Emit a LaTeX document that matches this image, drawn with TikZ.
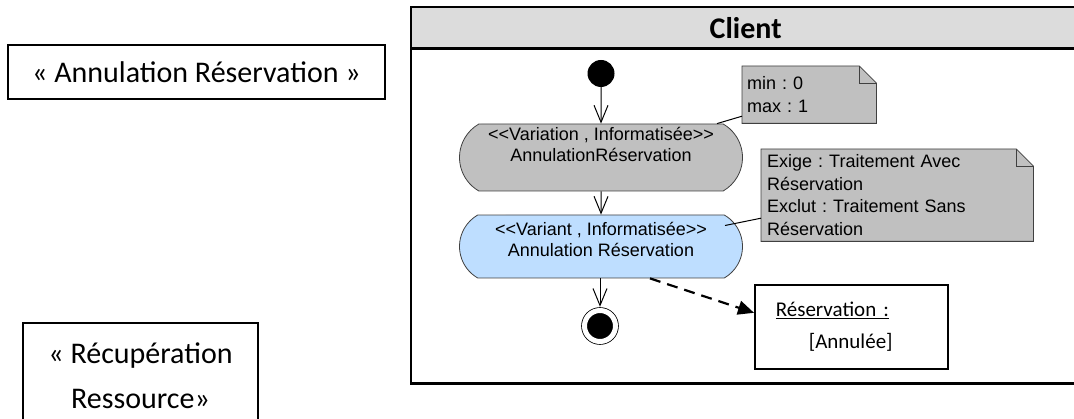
\documentclass[tikz,border=0pt]{standalone}
\usepackage{fontspec}
\setmainfont{Carlito}
\newfontfamily\arialfont{Liberation Sans}
\usepackage{xcolor}
\usepackage{tikz}
\usetikzlibrary{arrows.meta, positioning, shapes.misc, backgrounds, calc}
\frenchspacing

\definecolor{notegray}{RGB}{192,192,192}
\definecolor{variantblue}{RGB}{190,222,255}
\definecolor{headgray}{RGB}{220,220,220}

\begin{document}
\begin{tikzpicture}[
    x=1pt, y=-1pt,
    lbox/.style={draw, line width=2pt, align=center, font=\fontsize{30}{45}\selectfont},
    lane/.style={anchor=north west, minimum width=669pt, inner sep=0pt},
    frame/.style={line width=2.5pt},
    act/.style={rounded rectangle, rounded rectangle arc length=120, draw=black!75, line width=0.8pt, align=center, inner sep=0pt, minimum width=283pt, font=\arialfont\fontsize{18}{21}\selectfont},
    note/.style={anchor=north west, align=left, inner ysep=0pt, font=\arialfont\fontsize{18}{22.5}\selectfont},
    notebg/.style={draw=black!75, line width=0.8pt, fill=notegray},
    objbox/.style={draw, line width=1.6pt, anchor=north west, align=left, inner xsep=21pt, minimum width=193pt, minimum height=84pt, text width=151pt, font=\fontsize{21}{32}\selectfont},
    flow/.style={-{Straight Barb[length=17pt, width=14pt]}, line width=1pt},
    dep/.style={-{Triangle[length=16pt, width=14pt]}, line width=2.2pt, dash pattern=on 11pt off 7pt},
    link/.style={line width=1pt}
]
\useasboundingbox (0,0) rectangle (1074,419);

% left labels
\node[lbox, minimum width=377pt, minimum height=54pt] (annul) at (196.5,72) {« Annulation Réservation »};
\node[lbox, anchor=north west, minimum width=235pt, minimum height=106pt] (recup) at (22,322) {« Récupération\\Ressource»};

% swimlane (open on the right)
\node[lane, minimum height=41pt, fill=headgray, font=\bfseries\fontsize{30}{32}\selectfont] (client) at (411,7) {Client};
\node[lane, minimum height=335pt] (lane) at (411,48) {};
\draw[frame] ([xshift=20pt]client.north east) -- (client.north west) -- (lane.south west) -- ([xshift=20pt]lane.south east);
\draw[frame] (client.south west) -- ([xshift=20pt]client.south east);

% activity flow
\node[circle, fill=black, minimum size=27pt, inner sep=0pt] (start) at (601,73.5) {};
\node[act, fill=notegray, minimum height=67pt] (act1) at (601,157.5) {<<Variation , Informatisée>>\\AnnulationRéservation\\[5pt]\mbox{}};
\node[act, fill=variantblue, minimum height=63pt] (act2) at (601,246.5) {<<Variant , Informatisée>>\\Annulation Réservation\\[-6pt]\mbox{}};
\node[circle, draw, fill=black, double=white, double distance=5pt, line width=0.8pt, minimum size=31pt, inner sep=0pt] (final) at (600,326) {};

% notes
\node[note, minimum width=134pt, minimum height=57pt, inner xsep=5pt, text width=124pt] (noteMin) at (742,66) {min : 0\\max : 1};
\node[note, minimum width=272pt, minimum height=92pt, inner xsep=6pt, text width=260pt] (noteReq) at (761,149) {Exige : Traitement Avec\\Réservation\\Exclut : Traitement Sans\\Réservation};

% object
\node[objbox] (resa) at (754,284) {\underline{Réservation :}\\\hspace*{33pt}[Annulée]};

\begin{scope}[on background layer]
\foreach \n in {noteMin, noteReq} {
    \filldraw[notebg] (\n.south west) -- (\n.north west) -- ([xshift=-17pt]\n.north east)
        -- ([yshift=-17pt]\n.north east) -- (\n.south east) -- cycle;
    \draw[notebg, fill=none] ([xshift=-17pt]\n.north east) |- ([yshift=-17pt]\n.north east);
}
\end{scope}

\draw[flow] (start) -- (act1);
\draw[flow] (act1) -- (act2);
\draw[flow, shorten >=3.3pt] (act2.south -| final) -- (final);
\draw[dep] ([xshift=49pt]act2.south) -- ([yshift=14pt]resa.west);
\draw[link] ([yshift=-21.5pt]noteMin.west) -- ([xshift=116pt]act1.north);
\draw[link] ([yshift=-23pt]noteReq.west) -- ([xshift=124pt, yshift=21pt]act2.center);

\end{tikzpicture}
\end{document}
